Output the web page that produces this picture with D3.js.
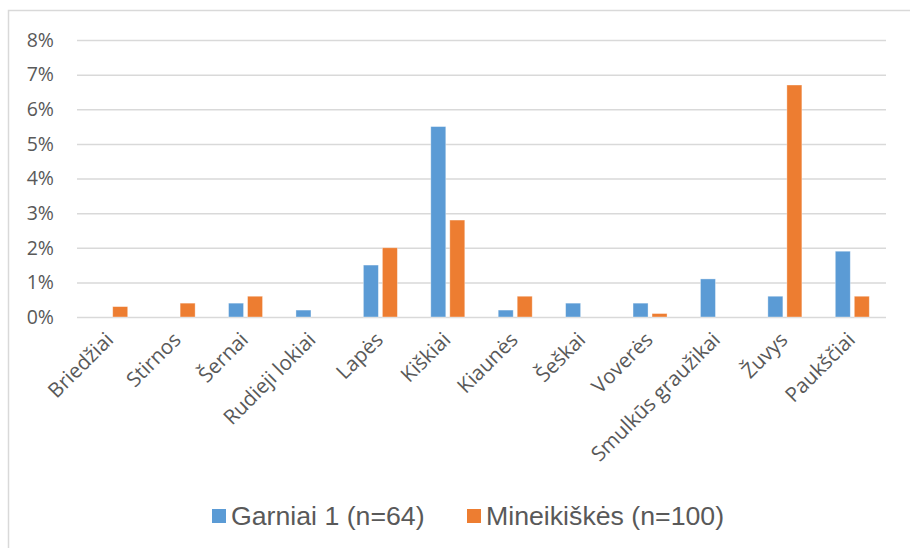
<!DOCTYPE html>
<html>
<head>
<meta charset="utf-8">
<script src="https://cdn.jsdelivr.net/npm/d3@7/dist/d3.min.js"></script>
<style>
  html, body { margin: 0; padding: 0; background: #fff; }
  svg { display: block; }
</style>
</head>
<body>
<svg id="chart" width="910" height="548"></svg>
<script>
// Categories (animal groups) along the x axis
const categories = [
  "Briedžiai", "Stirnos", "Šernai", "Rudieji lokiai", "Lapės", "Kiškiai",
  "Kiaunės", "Šeškai", "Voverės", "Smulkūs graužikai", "Žuvys", "Paukščiai"
];

// Series names as shown in the legend
const seriesNames = ["Garniai 1 (n=64)", "Mineikiškės (n=100)"];

// Share of each category, in percent
const garniai = [0, 0, 0.4, 0.2, 1.5, 5.5, 0.2, 0.4, 0.4, 1.1, 0.6, 1.9];
const mineikiskes = [0.3, 0.4, 0.6, 0, 2.0, 2.8, 0.6, 0, 0.1, 0, 6.7, 0.6];

// Y axis ticks, in percent
const yTicks = [0, 1, 2, 3, 4, 5, 6, 7, 8];

const seriesValues = [garniai, mineikiskes];
const colors = ["#5b9bd5", "#ed7d31"];
const textColor = "#595959";
const gridColor = "#d9d9d9";

const svg = d3.select("#chart");

// Outer chart frame
svg.append("path")
  .attr("d", "M8.5,560 L8.5,10.5 L920,10.5")
  .attr("fill", "none")
  .attr("stroke", gridColor)
  .attr("stroke-width", 1.5);

const plot = { left: 77, right: 886, top: 40, bottom: 317 };

const x0 = d3.scaleBand()
  .domain(categories)
  .range([plot.left, plot.right]);

const bw = x0.bandwidth();
const x1 = d3.scaleBand()
  .domain(seriesNames)
  .range([bw / 2 - 17, bw / 2 + 17])
  .paddingInner(0.2105);

const y = d3.scaleLinear()
  .domain([0, 8])
  .range([plot.bottom, plot.top]);

// Horizontal gridlines and y labels
const yAxis = d3.axisLeft(y)
  .tickValues(yTicks)
  .tickSize(-(plot.right - plot.left))
  .tickPadding(23)
  .tickFormat(d => d + "%");

const gy = svg.append("g")
  .attr("transform", `translate(${plot.left},0)`)
  .call(yAxis);
gy.select(".domain").remove();
gy.selectAll(".tick line")
  .attr("stroke", gridColor)
  .attr("stroke-width", 1.5);
gy.selectAll(".tick text")
  .attr("fill", textColor)
  .attr("font-family", "'Open Sans', sans-serif")
  .attr("font-size", 19.5);

// Bars
const rows = categories.map((c, i) => ({
  category: c,
  values: seriesNames.map((s, j) => ({ series: s, idx: j, value: seriesValues[j][i] }))
}));

const groups = svg.append("g")
  .selectAll("g")
  .data(rows)
  .join("g")
  .attr("transform", d => `translate(${x0(d.category)},0)`);

groups.selectAll("rect")
  .data(d => d.values.filter(v => v.value > 0))
  .join("rect")
  .attr("x", d => x1(d.series))
  .attr("width", x1.bandwidth())
  .attr("y", d => y(d.value))
  .attr("height", d => y(0) - y(d.value))
  .attr("fill", d => colors[d.idx])
  .attr("stroke", "#ffffff")
  .attr("stroke-opacity", 0.45)
  .attr("stroke-width", 0.8);

// Category labels, rotated
const gx = svg.append("g");
gx.selectAll("text")
  .data(categories)
  .join("text")
  .attr("transform", d => `translate(${x0(d) + bw / 2 + 4},341) rotate(-45)`)
  .attr("text-anchor", "end")
  .attr("fill", textColor)
  .attr("font-family", "'Open Sans', sans-serif")
  .attr("font-size", 20.5)
  .text(d => d);

// Legend
const legendItems = [
  { name: seriesNames[0], color: colors[0], x: 212 },
  { name: seriesNames[1], color: colors[1], x: 467 }
];
const lg = svg.append("g")
  .selectAll("g")
  .data(legendItems)
  .join("g")
  .attr("transform", d => `translate(${d.x},509)`);
lg.append("rect")
  .attr("width", 14)
  .attr("height", 14)
  .attr("fill", d => d.color);
lg.append("text")
  .attr("x", 19)
  .attr("y", 15.5)
  .attr("fill", textColor)
  .attr("font-family", "'Liberation Sans', Arial, sans-serif")
  .attr("font-size", 26.7)
  .text(d => d.name);
</script>
</body>
</html>
